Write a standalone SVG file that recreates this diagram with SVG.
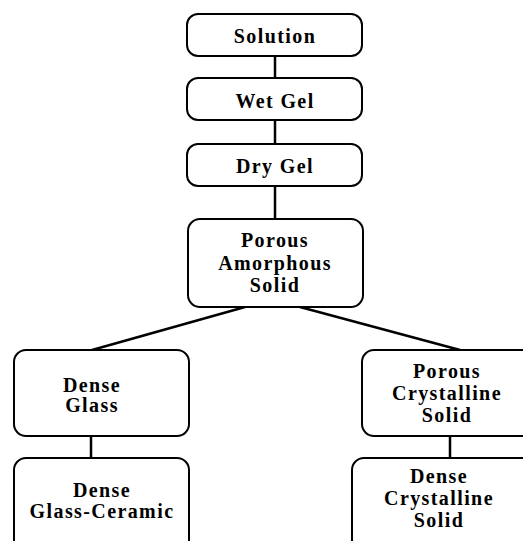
<svg xmlns="http://www.w3.org/2000/svg" width="523" height="541" viewBox="0 0 523 541">
<style>
.box{fill:#fff;stroke:#000;stroke-width:2}
.t{font-family:"Liberation Serif","Times New Roman",serif;font-weight:bold;font-size:20px;letter-spacing:1.4px;text-anchor:middle;fill:#000}
.c{stroke:#000;stroke-width:2.5;fill:none}
</style>
<rect width="523" height="541" fill="#fff"/>
<g id="connectors">
<line class="c" x1="275" y1="56" x2="275" y2="78"/>
<line class="c" x1="275" y1="120" x2="275" y2="144"/>
<line class="c" x1="275" y1="186" x2="275" y2="219"/>
<line class="c" x1="245" y1="307" x2="92" y2="350"/>
<line class="c" x1="300" y1="307" x2="460" y2="350"/>
<line class="c" x1="91" y1="436" x2="91" y2="458"/>
<line class="c" x1="450" y1="436" x2="450" y2="458"/>
</g>
<g id="solution">
<rect class="box" x="187" y="14" width="175" height="42" rx="11"/>
<text class="t" x="275" y="43">Solution</text>
</g>
<g id="wet-gel">
<rect class="box" x="187" y="78" width="175" height="42" rx="11"/>
<text class="t" x="275" y="108">Wet Gel</text>
</g>
<g id="dry-gel">
<rect class="box" x="187" y="144" width="175" height="42" rx="11"/>
<text class="t" x="275" y="173">Dry Gel</text>
</g>
<g id="porous-amorphous-solid">
<rect class="box" x="188" y="219" width="175" height="88" rx="12"/>
<text class="t" x="275" y="247">Porous</text>
<text class="t" x="275" y="270">Amorphous</text>
<text class="t" x="275" y="292">Solid</text>
</g>
<g id="dense-glass">
<rect class="box" x="14" y="350" width="175" height="86" rx="12"/>
<text class="t" x="92" y="392">Dense</text>
<text class="t" x="92" y="412">Glass</text>
</g>
<g id="dense-glass-ceramic">
<rect class="box" x="14" y="458" width="175" height="100" rx="12"/>
<text class="t" x="102" y="497">Dense</text>
<text class="t" x="102" y="518">Glass-Ceramic</text>
</g>
<g id="porous-crystalline-solid">
<rect class="box" x="362" y="350" width="175" height="86" rx="12"/>
<text class="t" x="447" y="378">Porous</text>
<text class="t" x="447" y="400">Crystalline</text>
<text class="t" x="447" y="422">Solid</text>
</g>
<g id="dense-crystalline-solid">
<rect class="box" x="352" y="458" width="185" height="100" rx="12"/>
<text class="t" x="439" y="483">Dense</text>
<text class="t" x="439" y="505">Crystalline</text>
<text class="t" x="439" y="527">Solid</text>
</g>
</svg>
